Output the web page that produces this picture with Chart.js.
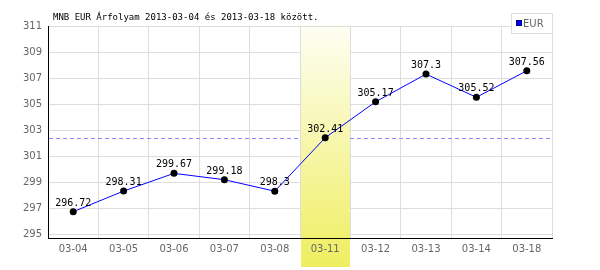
<!DOCTYPE html>
<html>
<head>
<meta charset="utf-8">
<script src="https://cdn.jsdelivr.net/npm/chart.js@4/dist/chart.umd.min.js"></script>
<style>
  body { margin: 0; background: #fff; }
  canvas { display: block; }
</style>
</head>
<body>
<canvas id="chart" width="600" height="270"></canvas>
<script>
// data
const dates = ['03-04', '03-05', '03-06', '03-07', '03-08', '03-11', '03-12', '03-13', '03-14', '03-18'];
const eurRates = [296.72, 298.31, 299.67, 299.18, 298.3, 302.41, 305.17, 307.3, 305.52, 307.56];
const yTicks = [295, 297, 299, 301, 303, 305, 307, 309, 311];
const refLine = 302.41;      // dashed line
const highlightIndex = 5;    // 03-11 column
const seriesName = 'EUR';
const titleText = 'MNB EUR Árfolyam 2013-03-04 és 2013-03-18 között.';

function bandGradient(ctx, top, bottom) {
    const g = ctx.createLinearGradient(0, top, 0, bottom);
    g.addColorStop(0, '#fefef4');
    g.addColorStop(1, '#efee60');
    return g;
}

function bandEdges(chart) {
    const x = chart.scales.x;
    const half = (x.getPixelForValue(1) - x.getPixelForValue(0)) / 2;
    const c = x.getPixelForValue(highlightIndex);
    return [Math.round(c - half) + 1, Math.round(c + half)];
}

// kiemelt oszlop + szaggatott vonal + feliratok
const extras = {
    id: 'extras',
    beforeDraw(chart) {
        const ctx = chart.ctx;
        const [l, r] = bandEdges(chart);
        ctx.save();
        ctx.fillStyle = bandGradient(ctx, 25, 267);
        ctx.fillRect(l, 25, r - l, 267 - 25);
        ctx.restore();
    },
    beforeDatasetsDraw(chart) {
        const ctx = chart.ctx;
        const area = chart.chartArea;
        const y = Math.round(chart.scales.y.getPixelForValue(refLine)) + 0.5;
        ctx.save();
        ctx.strokeStyle = '#8888ff';
        ctx.lineWidth = 1;
        ctx.setLineDash([4, 3]);
        ctx.beginPath();
        ctx.moveTo(area.left + 1, y);
        ctx.lineTo(area.right, y);
        ctx.stroke();
        ctx.setLineDash([]);
        const [l, r] = bandEdges(chart);
        ctx.fillStyle = bandGradient(ctx, 25, 267);
        ctx.fillRect(l, area.top + 1, r - l, area.bottom - area.top - 2);
        ctx.restore();
    },
    afterDatasetsDraw(chart) {
        const ctx = chart.ctx;
        const meta = chart.getDatasetMeta(0);
        ctx.save();
        ctx.font = '10px "DejaVu Sans Mono"';
        ctx.fillStyle = '#000';
        ctx.textAlign = 'center';
        ctx.textBaseline = 'alphabetic';
        meta.data.forEach((pt, i) => {
            ctx.fillText(String(eurRates[i]), pt.x, pt.y - 6);
        });
        ctx.restore();
    },
    afterDraw(chart) {
        const ctx = chart.ctx;
        ctx.save();
        // cím
        ctx.font = '9px "DejaVu Sans Mono"';
        ctx.fillStyle = '#000';
        ctx.textBaseline = 'alphabetic';
        ctx.fillText(titleText, 53, 20);
        // jelmagyarázat
        ctx.fillStyle = '#fff';
        ctx.fillRect(511, 13, 41, 20);
        ctx.strokeStyle = '#dddddd';
        ctx.lineWidth = 1;
        ctx.strokeRect(511.5, 13.5, 41, 20);
        ctx.fillStyle = '#0000ff';
        ctx.fillRect(516, 20, 6, 6);
        ctx.strokeStyle = '#000080';
        ctx.strokeRect(516.5, 20.5, 5, 5);
        ctx.fillStyle = '#666';
        ctx.font = '10px "DejaVu Sans"';
        ctx.textBaseline = 'middle';
        ctx.fillText(seriesName, 523, 24);
        ctx.restore();
    }
};

new Chart(document.getElementById('chart'), {
    type: 'line',
    data: {
        labels: dates,
        datasets: [{
            label: seriesName,
            data: eurRates,
            borderColor: '#0000ff',
            borderWidth: 1,
            tension: 0,
            pointRadius: 3.5,
            pointBackgroundColor: '#000',
            pointBorderWidth: 0,
            fill: false
        }]
    },
    options: {
        responsive: false,
        animation: false,
        layout: { padding: { top: 26, right: 48, left: 0, bottom: 0 } },
        plugins: {
            legend: { display: false },
            title: { display: false },
            tooltip: { enabled: false }
        },
        scales: {
            x: {
                type: 'category',
                offset: true,
                afterFit(scale) { scale.height = 32; },
                grid: { offset: true, color: '#dddddd', drawTicks: false },
                border: { color: '#000', width: 1 },
                ticks: {
                    color: '#666',
                    font: { family: 'DejaVu Sans', size: 10 },
                    padding: 5,
                    maxRotation: 0
                }
            },
            y: {
                min: 294.7,
                max: 311,
                afterFit(scale) { scale.width = 48; },
                afterBuildTicks(scale) { scale.ticks = yTicks.map(v => ({ value: v })); },
                grid: { color: '#dddddd', drawTicks: false },
                border: { color: '#000', width: 1 },
                ticks: {
                    color: '#666',
                    font: { family: 'DejaVu Sans', size: 10 },
                    padding: 6
                }
            }
        }
    },
    plugins: [extras]
});
</script>
</body>
</html>
